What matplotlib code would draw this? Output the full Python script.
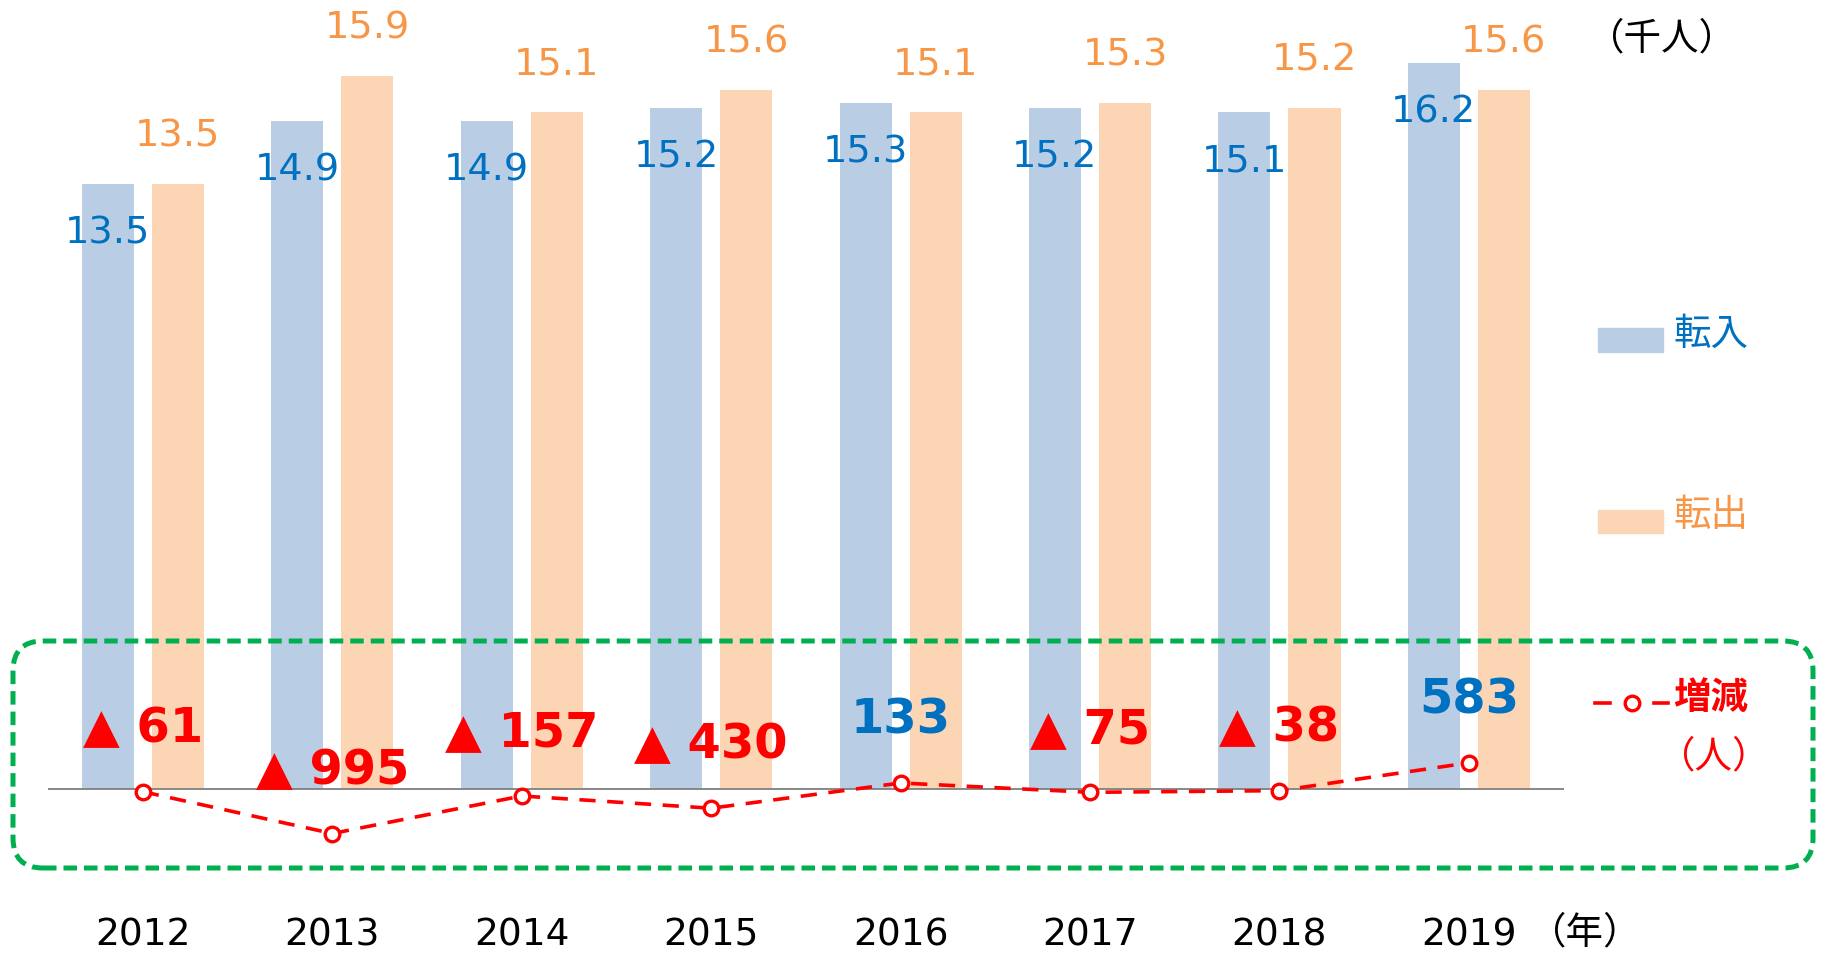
import matplotlib
matplotlib.use("Agg")
import matplotlib.pyplot as plt
import numpy as np
from matplotlib.patches import FancyBboxPatch, Rectangle
from matplotlib.lines import Line2D

# ---------------- data ----------------
years = ["2012", "2013", "2014", "2015", "2016", "2017", "2018", "2019"]
inflow = [13.5, 14.9, 14.9, 15.2, 15.3, 15.2, 15.1, 16.2]     # 転入 (千人)
outflow = [13.5, 15.9, 15.1, 15.6, 15.1, 15.3, 15.2, 15.6]    # 転出 (千人)
change = [-61, -995, -157, -430, 133, -75, -38, 583]          # 増減 (人)

# ---------------- style ----------------
BLUE_BAR = "#B9CDE5"
ORANGE_BAR = "#FCD5B5"
BLUE_TXT = "#0070C0"
ORANGE_TXT = "#F79646"
RED = "#FF0000"
GREEN = "#00B050"
JP = ["Noto Sans CJK JP", "DejaVu Sans"]
NUM = ["DejaVu Sans"]

W, H = 1823, 954
fig = plt.figure(figsize=((W + 0.3) / 100, (H + 0.3) / 100), dpi=100)
PX = 44.8          # pixels per thousand persons
BASE = 789         # baseline, pixels from top
ax = fig.add_axes([48.15 / W, 0, 1515.2 / W, 1])
ax.set_xlim(-0.5, len(years) - 0.5)
ax.set_ylim(-(H - BASE) / PX, BASE / PX)
ax.axis("off")

x = np.arange(len(years))
off, bw = 0.185, 0.275
ax.bar(x - off, inflow, width=bw, color=BLUE_BAR, zorder=2)
ax.bar(x + off, outflow, width=bw, color=ORANGE_BAR, zorder=2)
ax.axhline(0, color="#7F7F7F", lw=1.3, zorder=3)

for i in range(len(years)):
    ax.annotate(f"{inflow[i]:.1f}", (x[i] - off, inflow[i]), xytext=(0, -42.7),
                textcoords="offset points", ha="center", va="baseline",
                fontsize=27.5, color=BLUE_TXT, family=NUM, zorder=4)
    ax.annotate(f"{outflow[i]:.1f}", (x[i] + off, outflow[i]), xytext=(0, 27.4),
                textcoords="offset points", ha="center", va="baseline",
                fontsize=27.5, color=ORANGE_TXT, family=NUM, zorder=4)
    ax.text(x[i], 9 / H, years[i], transform=ax.get_xaxis_transform(),
            ha="center", va="baseline", fontsize=27, color="black", family=NUM)

# change line on a secondary axis (persons)
ax2 = ax.twinx()
lo, hi = ax.get_ylim()
ax2.set_ylim(lo * 1000, hi * 1000)
ax2.axis("off")
ax2.plot(x, change, color=RED, lw=2.6, dashes=(4.5, 3.2), marker="o", ms=10.5,
         mfc="white", mec=RED, mew=2.4, zorder=5)
for i, v in enumerate(change):
    if v < 0:
        s, c = f"▲ {abs(v)}", RED
    else:
        s, c = f"{v}", BLUE_TXT
    ax2.annotate(s, (x[i], v), xytext=(0, 36), textcoords="offset points",
                 ha="center", va="baseline", fontsize=34.5, fontweight="bold",
                 color=c, family=NUM, zorder=6)

# ---------------- decorations (inch space) ----------------
T = fig.dpi_scale_trans  # inches
def py(top):  # pixels from top -> inches from bottom
    return (H - top) / 100

box = FancyBboxPatch((13 / 100, py(868)), 1800 / 100, (868 - 641) / 100,
                     boxstyle="round,pad=0,rounding_size=0.3",
                     transform=T, fill=False, edgecolor=GREEN, lw=3.6,
                     linestyle=(0, (2.7, 1.4)), zorder=10)
fig.add_artist(box)

fig.text(1661.5 / W, 1 - 38.5 / H, "（千人）", ha="center", va="center",
         fontsize=27, family=JP, color="black")
fig.text(1584.5 / W, 11 / H, "（年）", ha="center", va="baseline",
         fontsize=27, family=JP, color="black")

# legend
fig.add_artist(Rectangle((1598 / 100, py(352)), 65 / 100, 24 / 100,
                         transform=T, color=BLUE_BAR))
fig.add_artist(Rectangle((1598 / 100, py(533)), 65 / 100, 23 / 100,
                         transform=T, color=ORANGE_BAR))
fig.text(1673 / W, 1 - 334 / H, "転入", ha="left", va="center", fontsize=27,
         family=JP, color=BLUE_TXT)
fig.text(1673 / W, 1 - 515 / H, "転出", ha="left", va="center", fontsize=27,
         family=JP, color=ORANGE_TXT)
ly = py(703)
fig.add_artist(Line2D([1595 / 100, 1610 / 100], [ly, ly], transform=T,
                      color=RED, lw=2.6))
fig.add_artist(Line2D([1654 / 100, 1668 / 100], [ly, ly], transform=T,
                      color=RED, lw=2.6))
fig.add_artist(Line2D([1631.5 / 100], [ly], transform=T, marker="o", ms=10.5,
                      mfc="white", mec=RED, mew=2.4, lw=0))
fig.text(1673 / W, 1 - 697 / H, "増減", ha="left", va="center", fontsize=27,
         fontweight="bold", family=JP, color=RED)
fig.text(1713.5 / W, 1 - 757 / H, "（人）", ha="center", va="center", fontsize=27,
         family=JP, color=RED)

fig.savefig("out.png", dpi=100)
